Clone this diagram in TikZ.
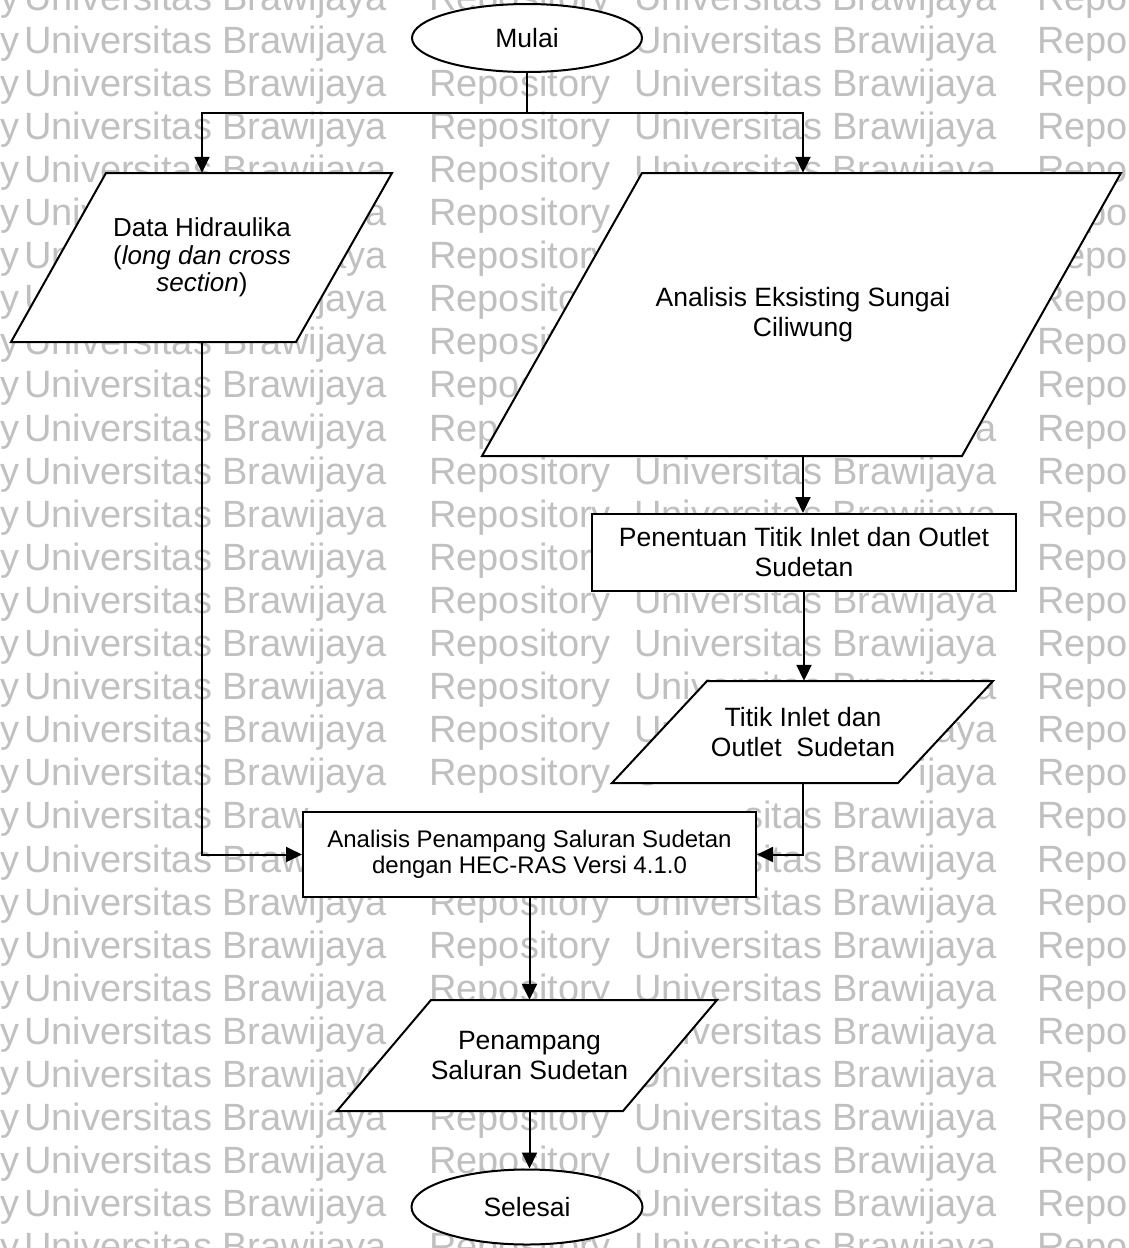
\documentclass[tikz,border=0pt]{standalone}
\usepackage{fontspec}
\setmainfont{Liberation Sans}
\usetikzlibrary{shapes.geometric,arrows.meta}
\definecolor{wmgray}{RGB}{192,192,192}
\newcommand\wmfont{\fontsize{38}{40}\selectfont}
\newcommand\wmskip[1]{\expandafter\def\csname wmskip-#1\endcsname{}}
\newcommand\wmpre[4]{\node[wm] (#1) at (#2,#3) {#4};}
% watermark words hidden behind shapes, or replaced by their visible part
\wmskip{1-d}\wmskip{7-e}\wmskip{7-f}\wmskip{8-e}\wmskip{8-f}
\wmskip{13-e}\wmskip{13-f}\wmskip{19-d}\wmskip{20-d}\wmskip{24-d}\wmskip{25-d}\wmskip{28-d}
\wmskip{5-b}\wmskip{5-c}\wmskip{6-b}\wmskip{6-c}\wmskip{7-b}\wmskip{7-c}
\wmskip{17-e}\wmskip{17-f}\wmskip{18-e}\wmskip{18-f}\wmskip{19-c}\wmskip{19-e}\wmskip{20-c}\wmskip{20-e}
\begin{document}
\begin{tikzpicture}[x=1pt,y=-1pt,
  box/.style={draw,line width=2pt,fill=white,inner sep=0pt,align=center},
  lbl/.style={inner sep=0pt,align=center},
  pgram/.style={draw,line width=2pt,fill=white,line join=miter},
  conn/.style={line width=2pt},
  arr/.style={conn,-{Triangle[length=16pt,width=15pt]}},
  wm/.style={anchor=base west,inner sep=0pt,text=wmgray,font=\wmfont},
  big/.style={font=\fontsize{26.5}{30}\selectfont}]
\useasboundingbox (0,0) rectangle (1128,1248);
\fill[white] (0,0) rectangle (1128,1248);
% watermark
\begin{scope}
\clip (0,0) rectangle (1128,1248);
\foreach \k in {0,...,29}{
  \pgfmathsetmacro{\yy}{10+43.1*\k}
  \foreach \w/\xx/\word in {a/0/y,b/24/Universitas,c/222/Brawijaya,d/429/Repository,e/634/Universitas,f/832/Brawijaya,g/1037/Repo}{
    \ifcsname wmskip-\k-\w\endcsname\else
      \node[wm] (wm-\k-\w) at (\xx,\yy) {\word};
    \fi
  }
}
\wmpre{wmt-5-b}{24}{225.5}{Univ}
\wmpre{wmt-5-c}{346.6}{225.5}{ya}
\wmpre{wmt-6-b}{24}{268.6}{Un}
\wmpre{wmt-6-c}{325.4}{268.6}{aya}
\wmpre{wmt-7-b}{24}{311.7}{U}
\wmpre{wmt-7-c}{317}{311.7}{jaya}
\wmpre{wmt-17-e}{634}{742.7}{Un}
\wmpre{wmt-17-f}{935.4}{742.7}{aya}
\wmpre{wmt-18-e}{634}{785.8}{U}
\wmpre{wmt-18-f}{918.6}{785.8}{ijaya}
\wmpre{wmt-19-c}{222}{828.9}{Braw}
\wmpre{wmt-19-e}{743.8}{828.9}{sitas}
\wmpre{wmt-20-c}{222}{872}{Braw}
\wmpre{wmt-20-e}{743.8}{872}{sitas}
\end{scope}
% terminals
\node[box,ellipse,minimum width=230pt,minimum height=68pt,big] (mulai) at (527,38) {Mulai};
\node[box,ellipse,minimum width=231pt,minimum height=75pt,big] (selesai) at (527,1207) {Selesai};
% Data Hidraulika
\draw[pgram] (106,173) -- (392,173) -- (296,342) -- (11,342) -- cycle;
\node[lbl,minimum height=169pt,font=\fontsize{26}{27.5}\selectfont] (dh) at (202,257.5)
  {Data Hidraulika\\(\textit{long dan cross}\\\textit{section})};
% Analisis Eksisting
\draw[pgram] (642,173) -- (1121,173) -- (962,456) -- (482,456) -- cycle;
\node[lbl,minimum height=283pt,big] (ae) at (803,314.5) {Analisis Eksisting Sungai\\Ciliwung};
% Penentuan
\node[box,minimum width=424pt,minimum height=77pt,big] (pt) at (804,552.5)
  {Penentuan Titik Inlet dan Outlet\\Sudetan};
% Titik Inlet
\draw[pgram] (707,681) -- (993,681) -- (898,783) -- (612,783) -- cycle;
\node[lbl,minimum height=102pt,big] (tio) at (803,732) {Titik Inlet dan\\Outlet\ \ Sudetan};
% Analisis Penampang
\node[box,minimum width=453pt,minimum height=85pt,font=\fontsize{24}{25.5}\selectfont] (ap) at (529.5,854.5)
  {Analisis Penampang Saluran Sudetan\\dengan HEC-RAS Versi 4.1.0};
% Penampang Saluran
\draw[pgram] (431,1000) -- (717,1000) -- (623,1111) -- (337,1111) -- cycle;
\node[lbl,minimum height=111pt,big] (pss) at (529.5,1055.5) {Penampang\\Saluran Sudetan};
% connectors
\coordinate (jn) at (527,113);
\draw[conn] (mulai.south) -- (jn);
\draw[arr] (jn) -| (dh.north);
\draw[arr] (jn) -| (ae.north);
\draw[arr] (ae.south) -- (ae.south |- pt.north);
\draw[arr] (pt.south) -- (pt.south |- tio.north);
\draw[arr] (tio.south) |- (ap.east);
\draw[arr] (dh.south) |- (ap.west);
\draw[arr] (ap.south) -- (ap.south |- pss.north);
\draw[arr] (pss.south) -- (pss.south |- selesai.north);
\end{tikzpicture}
\end{document}
